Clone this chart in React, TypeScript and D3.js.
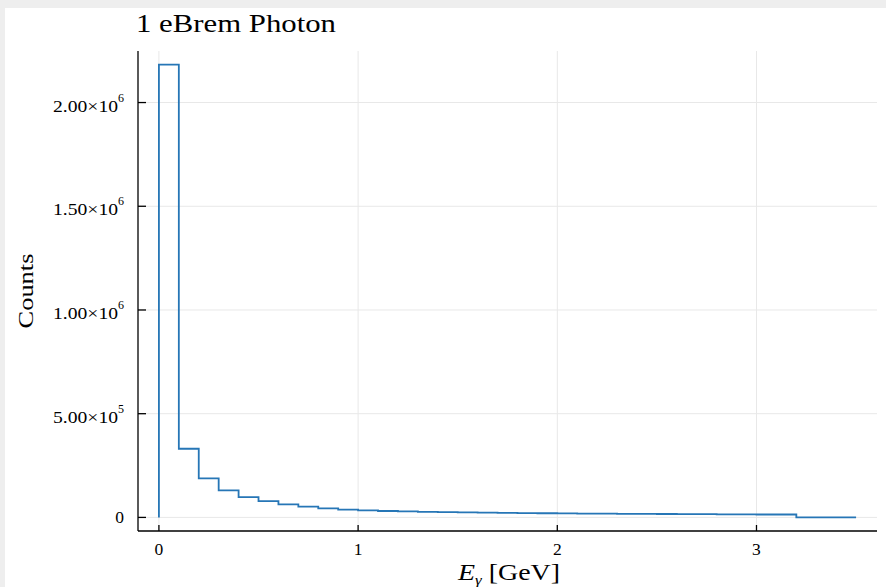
import React from "react";
import * as d3 from "d3";

const binEdges = [0, 0.1, 0.2, 0.3, 0.4, 0.5, 0.6, 0.7, 0.8, 0.9, 1.0, 1.1, 1.2, 1.3, 1.4, 1.5, 1.6, 1.7, 1.8, 1.9, 2.0, 2.1, 2.2, 2.3, 2.4, 2.5, 2.6, 2.7, 2.8, 2.9, 3.0, 3.1, 3.2, 3.3, 3.4, 3.5];
const counts = [2183000, 331000, 188000, 130000, 98000, 79000, 63000, 52000, 44000, 38000, 34000, 31000, 29000, 27000, 25500, 24000, 23000, 22000, 21000, 20000, 19000, 18500, 18000, 17500, 17000, 16500, 16000, 15500, 15000, 14500, 14000, 14000, 0, 0, 0];
const xTicks = [0, 1, 2, 3];
const yTicks = [0, 500000, 1000000, 1500000, 2000000];
const yTickMantissa = ["0", "5.00", "1.00", "1.50", "2.00"];
const yTickExponent = ["", "5", "6", "6", "6"];

const W = 886, H = 587;
const L = 138, R = 877, T = 51, B = 531;
const FONT = "'Liberation Serif', 'Times New Roman', serif";
const LINE = "#2676b6";

export default function App() {
  const xmin = d3.min(binEdges)!, xmax = d3.max(binEdges)!;
  const ymin = 0, ymax = d3.max(counts)!;
  const xpad = (xmax - xmin) * 0.03, ypad = (ymax - ymin) * 0.03;
  const x = d3.scaleLinear().domain([xmin - xpad, xmax + xpad]).range([L, R]);
  const y = d3.scaleLinear().domain([ymin - ypad, ymax + ypad]).range([B, T]);

  const pts: [number, number][] = [[binEdges[0], 0]];
  counts.forEach((c, i) => pts.push([binEdges[i], c]));
  pts.push([binEdges[binEdges.length - 1], counts[counts.length - 1]]);
  const path = d3.line<[number, number]>().x(d => x(d[0])).y(d => y(d[1])).curve(d3.curveStepAfter)(pts) || "";

  return (
    <svg width={W} height={H} style={{ position: "fixed", left: 0, top: 0 }} fontFamily={FONT}>
      <rect x={0} y={0} width={W} height={H} fill="#eeeeee" />
      <rect x={5} y={8} width={W - 5} height={H - 8} fill="#ffffff" />
      {xTicks.map(t => (
        <line key={"gx" + t} x1={x(t)} x2={x(t)} y1={T} y2={B} stroke="#e8e8e8" strokeWidth={1} />
      ))}
      {yTicks.map(t => (
        <line key={"gy" + t} x1={L} x2={R} y1={y(t)} y2={y(t)} stroke="#e8e8e8" strokeWidth={1} />
      ))}
      <path d={path} fill="none" stroke={LINE} strokeWidth={1.8} />
      <line x1={L} x2={L} y1={T} y2={B} stroke="#000" strokeWidth={1.3} />
      <line x1={L} x2={R} y1={B} y2={B} stroke="#000" strokeWidth={1.3} />
      {xTicks.map(t => (
        <g key={"xt" + t}>
          <line x1={x(t)} x2={x(t)} y1={B} y2={B - 6} stroke="#000" strokeWidth={1.3} />
          <text x={x(t)} y={555} textAnchor="middle" fontSize={17.5} fill="#000">{t}</text>
        </g>
      ))}
      {yTicks.map((t, i) => (
        <g key={"yt" + t}>
          <line x1={L} x2={L + 8} y1={y(t)} y2={y(t)} stroke="#000" strokeWidth={1.3} />
          {yTickExponent[i] ? (
            <>
              <text x={118} y={y(t) + 9} textAnchor="end" fontSize={17.5} fill="#000" textLength={65} lengthAdjust="spacingAndGlyphs">
                {yTickMantissa[i] + "×10"}
              </text>
              <text x={118} y={y(t) - 1} textAnchor="start" fontSize={12} fill="#000">{yTickExponent[i]}</text>
            </>
          ) : (
            <text x={124} y={y(t) + 6} textAnchor="end" fontSize={17.5} fill="#000">{yTickMantissa[i]}</text>
          )}
        </g>
      ))}
      <text x={136} y={32} fontSize={25} fill="#000" textLength={200} lengthAdjust="spacingAndGlyphs">1 eBrem Photon</text>
      <text x={458} y={580} fontSize={23} fill="#000" textLength={102} lengthAdjust="spacingAndGlyphs">
        <tspan fontStyle="italic">E</tspan>
        <tspan fontStyle="italic" fontSize={14} dy={5}>γ</tspan>
        <tspan dy={-5}>{"  [GeV]"}</tspan>
      </text>
      <text transform={`translate(33, ${(T + B) / 2}) rotate(-90)`} textAnchor="middle" fontSize={22} fill="#000" textLength={75} lengthAdjust="spacingAndGlyphs">Counts</text>
    </svg>
  );
}
